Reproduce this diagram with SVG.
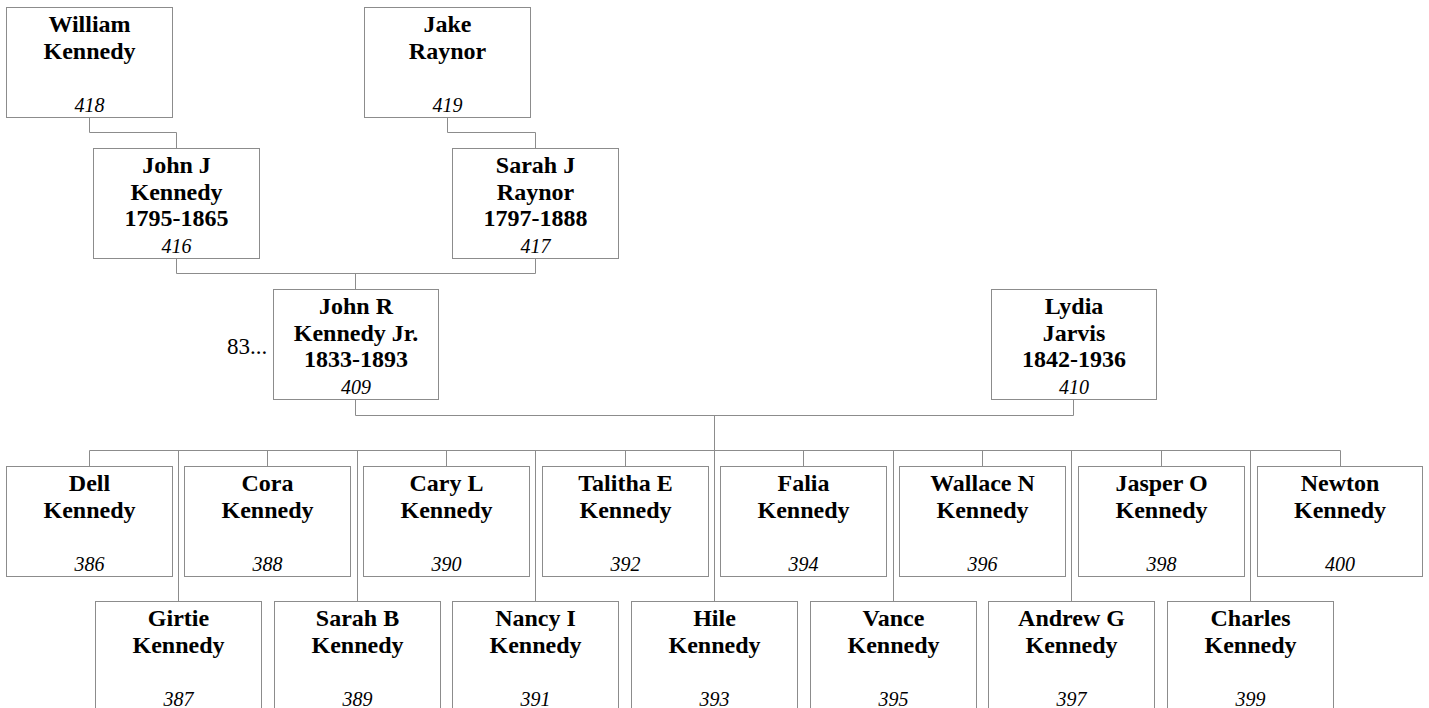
<svg xmlns="http://www.w3.org/2000/svg" width="1429" height="708" viewBox="0 0 1429 708">
<style>
rect.b{fill:#fff;stroke:#8c8c8c;stroke-width:1}
text{font-family:"Liberation Serif","Times New Roman",serif;fill:#000;text-anchor:middle}
.n{font-weight:bold;font-size:24px}
.i{font-style:italic;font-size:20px}
.c{fill:none;stroke:#8c8c8c;stroke-width:1}
</style>
<rect width="1429" height="708" fill="#fff"/>
<g id="connectors" class="c">
<path class="c" d="M89.5,117 V132.5 H176.5 V148"/>
<path class="c" d="M447.5,117 V132.5 H535.5 V148"/>
<path class="c" d="M176.5,258 V273.5 H535.5 V258 M355.5,273.5 V290"/>
<path class="c" d="M355.5,399 V415.5 H1073.5 V399 M714.5,415.5 V450.5"/>
<path class="c" d="M89.5,466 V450.5 H1340.5 V466"/>
<path class="c" d="M267.5,450.5 V466 M446.5,450.5 V466 M625.5,450.5 V466 M803.5,450.5 V466 M982.5,450.5 V466 M1161.5,450.5 V466"/>
<path class="c" d="M178.5,450.5 V601 M357.5,450.5 V601 M535.5,450.5 V601 M714.5,450.5 V601 M893.5,450.5 V601 M1071.5,450.5 V601 M1250.5,450.5 V601"/>
</g>
<g id="n418"><rect class="b" x="6.5" y="7.5" width="166" height="110"/><text class="n" x="89.5" y="32">William</text><text class="n" x="89.5" y="58.5">Kennedy</text><text class="i" x="89.5" y="112">418</text></g>
<g id="n419"><rect class="b" x="364.5" y="7.5" width="166" height="110"/><text class="n" x="447.5" y="32">Jake</text><text class="n" x="447.5" y="58.5">Raynor</text><text class="i" x="447.5" y="112">419</text></g>
<g id="n416"><rect class="b" x="93.5" y="148.5" width="166" height="110"/><text class="n" x="176.5" y="173">John J</text><text class="n" x="176.5" y="199.5">Kennedy</text><text class="n" x="176.5" y="226">1795-1865</text><text class="i" x="176.5" y="253">416</text></g>
<g id="n417"><rect class="b" x="452.5" y="148.5" width="166" height="110"/><text class="n" x="535.5" y="173">Sarah J</text><text class="n" x="535.5" y="199.5">Raynor</text><text class="n" x="535.5" y="226">1797-1888</text><text class="i" x="535.5" y="253">417</text></g>
<g id="n409"><rect class="b" x="273.5" y="289.5" width="165" height="110"/><text class="n" x="356" y="314">John R</text><text class="n" x="356" y="340.5">Kennedy Jr.</text><text class="n" x="356" y="367">1833-1893</text><text class="i" x="356" y="394">409</text><text x="247" y="354" style="font-size:23px">83...</text></g>
<g id="n410"><rect class="b" x="991.5" y="289.5" width="165" height="110"/><text class="n" x="1074" y="314">Lydia</text><text class="n" x="1074" y="340.5">Jarvis</text><text class="n" x="1074" y="367">1842-1936</text><text class="i" x="1074" y="394">410</text></g>
<g id="n386"><rect class="b" x="6.5" y="466.5" width="166" height="110"/><text class="n" x="89.5" y="491">Dell</text><text class="n" x="89.5" y="517.5">Kennedy</text><text class="i" x="89.5" y="571">386</text></g>
<g id="n388"><rect class="b" x="184.5" y="466.5" width="166" height="110"/><text class="n" x="267.5" y="491">Cora</text><text class="n" x="267.5" y="517.5">Kennedy</text><text class="i" x="267.5" y="571">388</text></g>
<g id="n390"><rect class="b" x="363.5" y="466.5" width="166" height="110"/><text class="n" x="446.5" y="491">Cary L</text><text class="n" x="446.5" y="517.5">Kennedy</text><text class="i" x="446.5" y="571">390</text></g>
<g id="n392"><rect class="b" x="542.5" y="466.5" width="166" height="110"/><text class="n" x="625.5" y="491">Talitha E</text><text class="n" x="625.5" y="517.5">Kennedy</text><text class="i" x="625.5" y="571">392</text></g>
<g id="n394"><rect class="b" x="720.5" y="466.5" width="166" height="110"/><text class="n" x="803.5" y="491">Falia</text><text class="n" x="803.5" y="517.5">Kennedy</text><text class="i" x="803.5" y="571">394</text></g>
<g id="n396"><rect class="b" x="899.5" y="466.5" width="166" height="110"/><text class="n" x="982.5" y="491">Wallace N</text><text class="n" x="982.5" y="517.5">Kennedy</text><text class="i" x="982.5" y="571">396</text></g>
<g id="n398"><rect class="b" x="1078.5" y="466.5" width="166" height="110"/><text class="n" x="1161.5" y="491">Jasper O</text><text class="n" x="1161.5" y="517.5">Kennedy</text><text class="i" x="1161.5" y="571">398</text></g>
<g id="n400"><rect class="b" x="1257.5" y="466.5" width="165" height="110"/><text class="n" x="1340" y="491">Newton</text><text class="n" x="1340" y="517.5">Kennedy</text><text class="i" x="1340" y="571">400</text></g>
<g id="n387"><rect class="b" x="95.5" y="601.5" width="166" height="110"/><text class="n" x="178.5" y="626">Girtie</text><text class="n" x="178.5" y="652.5">Kennedy</text><text class="i" x="178.5" y="706">387</text></g>
<g id="n389"><rect class="b" x="274.5" y="601.5" width="166" height="110"/><text class="n" x="357.5" y="626">Sarah B</text><text class="n" x="357.5" y="652.5">Kennedy</text><text class="i" x="357.5" y="706">389</text></g>
<g id="n391"><rect class="b" x="452.5" y="601.5" width="166" height="110"/><text class="n" x="535.5" y="626">Nancy I</text><text class="n" x="535.5" y="652.5">Kennedy</text><text class="i" x="535.5" y="706">391</text></g>
<g id="n393"><rect class="b" x="631.5" y="601.5" width="166" height="110"/><text class="n" x="714.5" y="626">Hile</text><text class="n" x="714.5" y="652.5">Kennedy</text><text class="i" x="714.5" y="706">393</text></g>
<g id="n395"><rect class="b" x="810.5" y="601.5" width="166" height="110"/><text class="n" x="893.5" y="626">Vance</text><text class="n" x="893.5" y="652.5">Kennedy</text><text class="i" x="893.5" y="706">395</text></g>
<g id="n397"><rect class="b" x="988.5" y="601.5" width="166" height="110"/><text class="n" x="1071.5" y="626">Andrew G</text><text class="n" x="1071.5" y="652.5">Kennedy</text><text class="i" x="1071.5" y="706">397</text></g>
<g id="n399"><rect class="b" x="1167.5" y="601.5" width="166" height="110"/><text class="n" x="1250.5" y="626">Charles</text><text class="n" x="1250.5" y="652.5">Kennedy</text><text class="i" x="1250.5" y="706">399</text></g>
</svg>
